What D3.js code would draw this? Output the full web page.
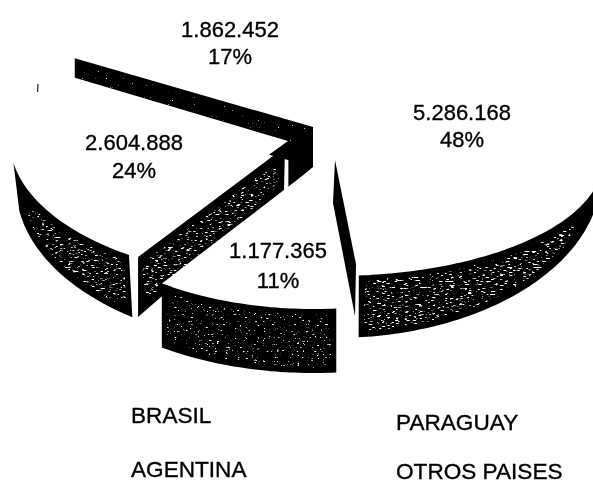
<!DOCTYPE html>
<html><head><meta charset="utf-8">
<script src="https://cdn.jsdelivr.net/npm/d3@7/dist/d3.min.js"></script>
<style>
html,body{margin:0;padding:0;background:#fff;overflow:hidden}
svg{display:block}
text{font-family:"Liberation Sans",Arial,sans-serif;fill:#000}
</style></head><body>
<svg id="c" width="593" height="484"></svg>
<script>
// ---- data, in the order the slices run clockwise
const sliceValues = [5286168, 1177365, 2604888, 1862452];
const legendLeft = ["BRASIL", "AGENTINA"];
const legendRight = ["PARAGUAY", "OTROS PAISES"];

// ---- layout
const W = 593, H = 484, deg = Math.PI / 180;
const sliceLayout = [
  { apex:[335,160], a:268, b:116, bottom:{dy:15, a:266, b:163}, wall:[100,174.9], speck:"m",
    radial:{apex:[335,160], a:343, b:116, side:"end", f:.9, dA:[-2,43], dB:[-1,52], speck:"none"},
    label:[462,120,147] },
  { apex:[314,167], a:266, b:142, bottom:{dy:64, a:266, b:142}, wall:[175.2,214.9], speck:"d",
    label:[278,258,288] },
  { apex:[288,141], a:278, b:139, bottom:{dy:45, a:272, b:160}, wall:[214.9,261], speck:"m",
    radial:{apex:[285,147], a:257, b:134, side:"start", f:1, dA:[-1,43], dB:[0,60], speck:"m"},
    label:[134,150,178] },
  { apex:[313,127], a:277, b:135, speck:"d",
    radial:{apex:[313,127], a:277, b:135, side:"start", f:1, dA:[0,40], dB:[0,42], speck:"f"},
    label:[230,37,64] }
];
const speckStyles = {
  m:{freq:"0.22 0.7", erode:6, blur:6, t:.6, seed:7},
  d:{freq:"0.35 0.7", erode:6, blur:5, t:.67, seed:3},
  f:{freq:"0.5 0.7", erode:3, blur:2, t:.74, seed:11}
};

// ---- pie
const pie = d3.pie().sort(null).startAngle(2*deg).endAngle(362*deg);
const arcs = pie(sliceValues);
const total = d3.sum(sliceValues);
const fmtNum = d3.formatLocale({decimal:",", thousands:".", grouping:[3], currency:["",""]}).format(",d");
const fmtPct = d3.format(".0%");

const svg = d3.select("#c");
const defs = svg.append("defs");
Object.entries(speckStyles).forEach(([k,s])=>{
  const f = defs.append("filter").attr("id","sp-"+k).attr("color-interpolation-filters","sRGB")
    .attr("x","-2%").attr("y","-2%").attr("width","104%").attr("height","104%");
  f.append("feTurbulence").attr("type","fractalNoise").attr("baseFrequency",s.freq)
    .attr("numOctaves",2).attr("seed",s.seed).attr("result","n");
  f.append("feColorMatrix").attr("in","n").attr("type","matrix")
    .attr("values","0 0 0 0 1  0 0 0 0 1  0 0 0 0 1  1 0 0 0 0").attr("result","na");
  f.append("feMorphology").attr("in","SourceAlpha").attr("operator","erode").attr("radius",s.erode).attr("result","e");
  f.append("feGaussianBlur").attr("in","e").attr("stdDeviation",s.blur).attr("result","m");
  f.append("feComponentTransfer").attr("in","m").attr("result","m2")
    .append("feFuncA").attr("type","linear").attr("slope",2.2).attr("intercept",0);
  f.append("feComposite").attr("in","na").attr("in2","m2").attr("operator","in").attr("result","c");
  f.append("feComponentTransfer").attr("in","c").attr("result","sp")
    .append("feFuncA").attr("type","linear").attr("slope",9).attr("intercept",-9*s.t);
  const mg = f.append("feMerge");
  mg.append("feMergeNode").attr("in","SourceGraphic");
  mg.append("feMergeNode").attr("in","sp");
});
const soft = defs.append("filter").attr("id","soft");
soft.append("feGaussianBlur").attr("stdDeviation",.35);

const line = d3.line();
const onEllipse = (cx,cy,a,b,t)=>[cx + a*Math.sin(t), cy - b*Math.cos(t)];

function topFace(i){
  const L = sliceLayout[i], d = arcs[i];
  const gen = d3.arc().innerRadius(0).outerRadius(L.a).startAngle(d.startAngle).endAngle(d.endAngle);
  svg.append("path").attr("d",gen())
    .attr("transform",`translate(${L.apex[0]},${L.apex[1]}) scale(1,${L.b/L.a})`)
    .attr("fill","#fff");
}
function outerWall(i){
  const L = sliceLayout[i];
  if(!L.wall) return;
  const ts = d3.range(L.wall[0], L.wall[1], 1).concat([L.wall[1]]).map(v=>v*deg);
  const up = ts.map(t=>onEllipse(L.apex[0],L.apex[1],L.a,L.b,t));
  const dn = ts.map(t=>onEllipse(L.apex[0],L.apex[1]+L.bottom.dy,L.bottom.a,L.bottom.b,t)).reverse();
  svg.append("path").attr("d",line(up.concat(dn))+"Z").attr("fill","#000")
    .attr("filter",`url(#sp-${L.speck})`);
}
function radialWall(i){
  const L = sliceLayout[i], R = L.radial, d = arcs[i];
  if(!R) return;
  const t = R.side==="start" ? d.startAngle : d.endAngle;
  const e = onEllipse(R.apex[0],R.apex[1],R.a*R.f,R.b*R.f,t);
  const poly = [R.apex, e, [e[0]+R.dB[0],e[1]+R.dB[1]], [R.apex[0]+R.dA[0],R.apex[1]+R.dA[1]]];
  const p = svg.append("path").attr("d",line(poly)+"Z").attr("fill","#000");
  if(R.speck!=="none") p.attr("filter",`url(#sp-${R.speck})`);
}

// back to front
radialWall(3);
// dark block where the 17% wall turns at its apex
(()=>{
  const L = sliceLayout[3], R = L.radial;
  const inner = sliceLayout[1];
  const t = arcs[1].endAngle;
  const e = onEllipse(R.apex[0],R.apex[1],inner.a*.162,inner.b*.162,t);
  svg.append("path").attr("fill","#000")
    .attr("d",line([R.apex,[e[0],e[1]],[e[0],e[1]+42],[R.apex[0],R.apex[1]+40]])+"Z");
})();
topFace(2);
outerWall(2);
radialWall(2);
topFace(1);
outerWall(1);
topFace(0);
outerWall(0);
radialWall(0);

// faint scan mark on the rim of the left slice
svg.append("path").attr("d",line([[38,84],[37.6,92]])).attr("stroke","#222").attr("stroke-width",1.2).attr("fill","none");

// value labels
const textG = svg.append("g").attr("filter","url(#soft)").attr("stroke","#000").attr("stroke-width",.35);
sliceLayout.forEach((L,i)=>{
  textG.append("text").attr("x",L.label[0]).attr("y",L.label[1]).attr("text-anchor","middle")
    .attr("font-size",22).text(fmtNum(sliceValues[i]));
  textG.append("text").attr("x",L.label[0]).attr("y",L.label[2]).attr("text-anchor","middle")
    .attr("font-size",22).text(fmtPct(sliceValues[i]/total));
});
// legend text
const legendY = d3.scalePoint().domain([0,1]);
[[legendLeft,131,[423,477]],[legendRight,396,[430,479]]].forEach(([labels,x,range])=>{
  const y = legendY.copy().range(range);
  labels.forEach((t,i)=>textG.append("text").attr("x",x).attr("y",y(i)).attr("font-size",22.6).text(t));
});
</script>
</body></html>
